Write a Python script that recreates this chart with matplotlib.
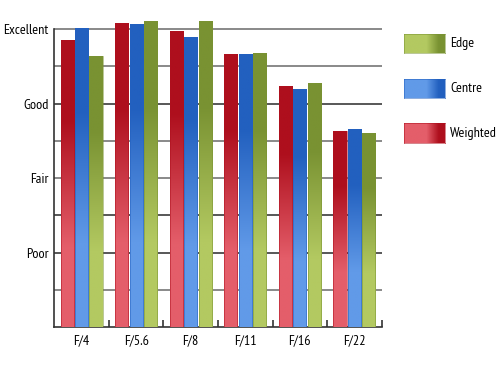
import numpy as np
import matplotlib
matplotlib.use("Agg")
import matplotlib.pyplot as plt
from matplotlib.colors import LinearSegmentedColormap
from matplotlib.patches import Rectangle

categories = ["F/4", "F/5.6", "F/8", "F/11", "F/16", "F/22"]
weighted = [7.70, 8.16, 7.96, 7.34, 6.46, 5.26]
centre = [8.04, 8.13, 7.79, 7.34, 6.39, 5.31]
edge = [7.28, 8.21, 8.21, 7.35, 6.56, 5.20]
ytick_vals = [2, 4, 6, 8]
ytick_labels = ["Poor", "Fair", "Good", "Excellent"]
series_names = ["Weighted", "Centre", "Edge"]

colors = {
    "Weighted": ("#e45e6a", "#ae0f1d"),
    "Centre": ("#619ae8", "#2260bf"),
    "Edge": ("#b3c961", "#799232"),
}

plt.rcParams['font.family'] = ['PT Sans Narrow', 'Asap Condensed', 'Archivo Narrow', 'Lato', 'DejaVu Sans']

fig = plt.figure(figsize=(5, 3.75), dpi=100)

# fit font size so that "Excellent" is about as wide as in the reference
probe = fig.text(0, 0, "Excellent", fontsize=10)
fig.canvas.draw()
w = probe.get_window_extent().width
probe.remove()
FS = float(np.clip(10 * 45.5 / w, 8.0, 12.0))

ax = fig.add_axes([0.1086, 0.128, 0.6548, 0.874])
ax.set_xlim(-0.5, len(categories) - 0.5)
ax.set_ylim(0, 8.8)

for spine in ["top", "right"]:
    ax.spines[spine].set_visible(False)
ax.spines["left"].set_bounds(0, 8)
ax.spines["left"].set_color("#333333")
ax.spines["bottom"].set_color("#333333")
ax.spines["left"].set_linewidth(1.2)
ax.spines["bottom"].set_linewidth(1.2)

for g in range(1, 9):
    ax.axhline(g, color="#2a2a2a" if g in (3, 2, 6) else "#6a6a6a", lw=1.1, zorder=1)

width = 0.24
offsets = [-0.265, 0.0, 0.265]
x = np.arange(len(categories))

def cmap_for(name, horizontal=False):
    light, dark = colors[name]
    if horizontal:
        return LinearSegmentedColormap.from_list(name, [(0, light), (0.55, light), (0.85, dark), (1, dark)])
    return LinearSegmentedColormap.from_list(name, [(0, light), (0.28, light), (0.72, dark), (1, dark)])

grad_v = np.linspace(0, 1, 256).reshape(-1, 1)
for name, vals, off in zip(series_names, [weighted, centre, edge], offsets):
    cm = cmap_for(name)
    light, dark = colors[name]
    for xi, v in zip(x, vals):
        x0 = xi + off - width / 2
        rect = Rectangle((x0, 0), width, v, facecolor="none", edgecolor="none", zorder=3)
        ax.add_patch(rect)
        im = ax.imshow(grad_v, extent=[x0, x0 + width, 0, v], origin="lower",
                       aspect="auto", cmap=cm, zorder=3, interpolation="bilinear")
        im.set_clip_path(rect)
        ax.add_patch(Rectangle((x0, 0), width, v, facecolor="none", edgecolor=dark,
                               lw=0.6, alpha=0.6, zorder=4))

ax.set_xlim(-0.5, len(categories) - 0.5)
ax.set_ylim(0, 8.8)

ax.set_yticks(ytick_vals)
ax.set_yticklabels(ytick_labels, fontsize=FS)
ax.tick_params(axis="y", length=0, pad=4)

ax.set_xticks(np.arange(len(categories)) + 0.5)
ax.set_xticklabels([])
ax.tick_params(axis="x", which="major", direction="in", length=5, width=1.2, color="#333333")
ax.set_xticks(x, minor=True)
ax.set_xticklabels(categories, minor=True, fontsize=FS)
ax.tick_params(axis="x", which="minor", length=0, pad=5)

# legend
grad_h = np.linspace(0, 1, 256).reshape(1, -1)
legend_y = [(34.3, 53.3), (79, 98.3), (123.3, 142.7)]
for name, (ytop, ybot) in zip(["Edge", "Centre", "Weighted"], legend_y):
    lax = fig.add_axes([404.3 / 500, 1 - ybot / 375, 40.7 / 500, (ybot - ytop) / 375])
    lax.imshow(grad_h, aspect="auto", cmap=cmap_for(name, horizontal=True), interpolation="bilinear")
    lax.set_xticks([]); lax.set_yticks([])
    for s in lax.spines.values():
        s.set_color(colors[name][1]); s.set_linewidth(0.6); s.set_alpha(0.6)
    fig.text(450 / 500, 1 - (ytop + ybot) / 2 / 375, name, fontsize=FS, va="center", ha="left")

fig.savefig("out.png", dpi=100)
